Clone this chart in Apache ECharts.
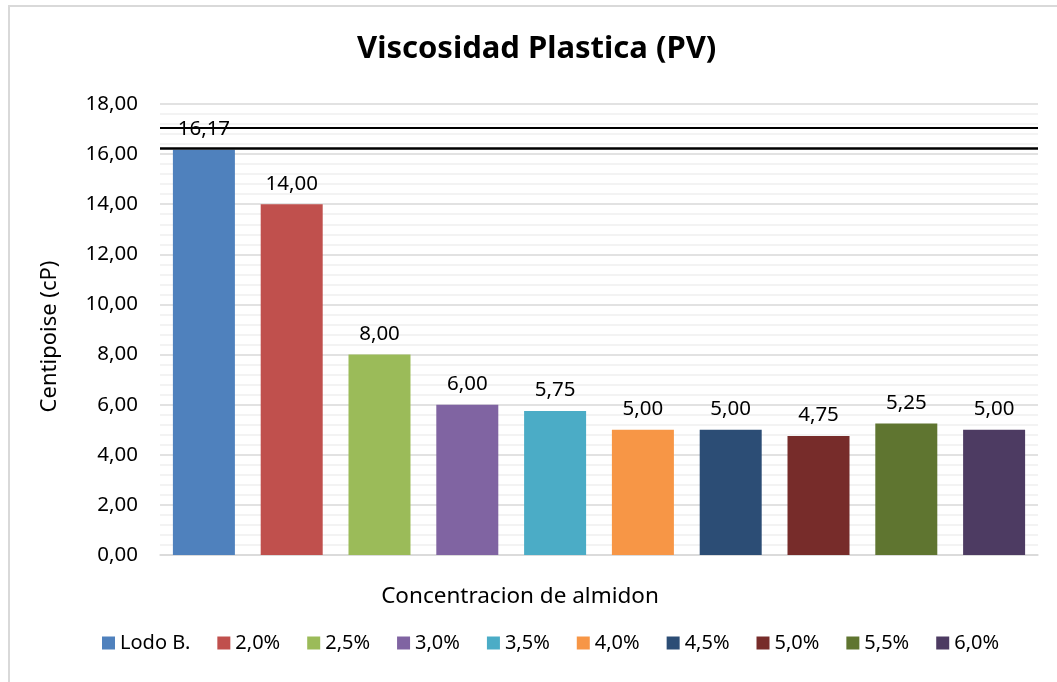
<!DOCTYPE html>
<html>
<head>
<meta charset="utf-8">
<script src="https://cdn.jsdelivr.net/npm/echarts@6/dist/echarts.min.js"></script>
<style>
  html, body { margin: 0; padding: 0; background: #fff; }
  #chart { position: absolute; left: 0; top: 0; width: 1057px; height: 682px; }
  #frame { position: absolute; left: 8px; top: 5px; width: 1060px; height: 690px;
           border-left: 2px solid #d9d9d9; border-top: 2px solid #d9d9d9; pointer-events: none; }
</style>
</head>
<body>
<div id="chart"></div>
<div id="frame"></div>
<script>
const categories = ['Lodo B.', '2,0%', '2,5%', '3,0%', '3,5%', '4,0%', '4,5%', '5,0%', '5,5%', '6,0%'];
const values = [16.17, 14.00, 8.00, 6.00, 5.75, 5.00, 5.00, 4.75, 5.25, 5.00];
const colors = ['#4F81BD', '#C0504D', '#9BBB59', '#8064A2', '#4BACC6', '#F79646', '#2C4D75', '#772C2A', '#5F7530', '#4D3B62'];
const refLines = [17.04, 16.25];
const yTicks = { min: 0, max: 18, interval: 2 };

const FONT = 'Noto Sans';
const fmt = v => Number(v).toFixed(2).replace('.', ',');

const series = categories.map((name, i) => {
  const s = {
    name: name,
    type: 'bar',
    stack: 'all',
    barWidth: 62,
    itemStyle: { color: colors[i] },
    label: {
      show: true, position: 'top', distance: 10,
      fontFamily: FONT, fontSize: 20.5, color: '#000',
      formatter: p => fmt(p.value)
    },
    data: categories.map((c, j) => (j === i ? values[i] : '-'))
  };
  if (i === 0) {
    s.markLine = {
      symbol: ['none', 'none'],
      silent: true,
      label: { show: false },
      z: 10,
      data: [
        { yAxis: refLines[0], lineStyle: { color: '#000', width: 2, type: 'solid' } },
        { yAxis: refLines[1], lineStyle: { color: '#000', width: 2.5, type: 'solid' } }
      ]
    };
  }
  return s;
});

const chart = echarts.init(document.getElementById('chart'), null, { renderer: 'canvas' });
chart.setOption({
  animation: false,
  backgroundColor: '#fff',
  textStyle: { fontFamily: FONT },
  title: {
    text: 'Viscosidad Plastica (PV)',
    left: 357, top: 34,
    padding: 0,
    textStyle: { fontFamily: FONT, fontSize: 31, fontWeight: 'bold', color: '#000' }
  },
  legend: {
    bottom: 24, left: 97,
    itemWidth: 13, itemHeight: 13, itemGap: 27,
    icon: 'rect',
    textStyle: { fontFamily: FONT, fontSize: 20, color: '#000' },
    data: categories
  },
  grid: { left: 160, right: 19, top: 104, bottom: 127 },
  xAxis: {
    type: 'category',
    data: categories,
    axisLine: { show: true, lineStyle: { color: '#d9d9d9', width: 1.5 } },
    axisTick: { show: false },
    axisLabel: { show: false },
    name: 'Concentracion de almidon',
    nameLocation: 'middle',
    nameGap: 30,
    nameTextStyle: { fontFamily: FONT, fontSize: 22.5, color: '#000', padding: [0, 158, 0, 0] }
  },
  yAxis: {
    type: 'value',
    min: yTicks.min, max: yTicks.max, interval: yTicks.interval,
    axisLine: { show: false },
    axisTick: { show: false },
    axisLabel: { fontFamily: FONT, fontSize: 20.5, color: '#000', margin: 22, formatter: v => fmt(v) },
    splitLine: { show: true, lineStyle: { color: '#d9d9d9', width: 1.5 } },
    minorTick: { show: false, splitNumber: 5 },
    minorSplitLine: { show: true, lineStyle: { color: '#efefef', width: 1.5 } },
    name: 'Centipoise (cP)',
    nameLocation: 'middle',
    nameGap: 99,
    nameRotate: 90,
    nameTextStyle: { fontFamily: FONT, fontSize: 22, color: '#000', padding: [0, 14, 0, 0] }
  },
  series: series
});
</script>
</body>
</html>
